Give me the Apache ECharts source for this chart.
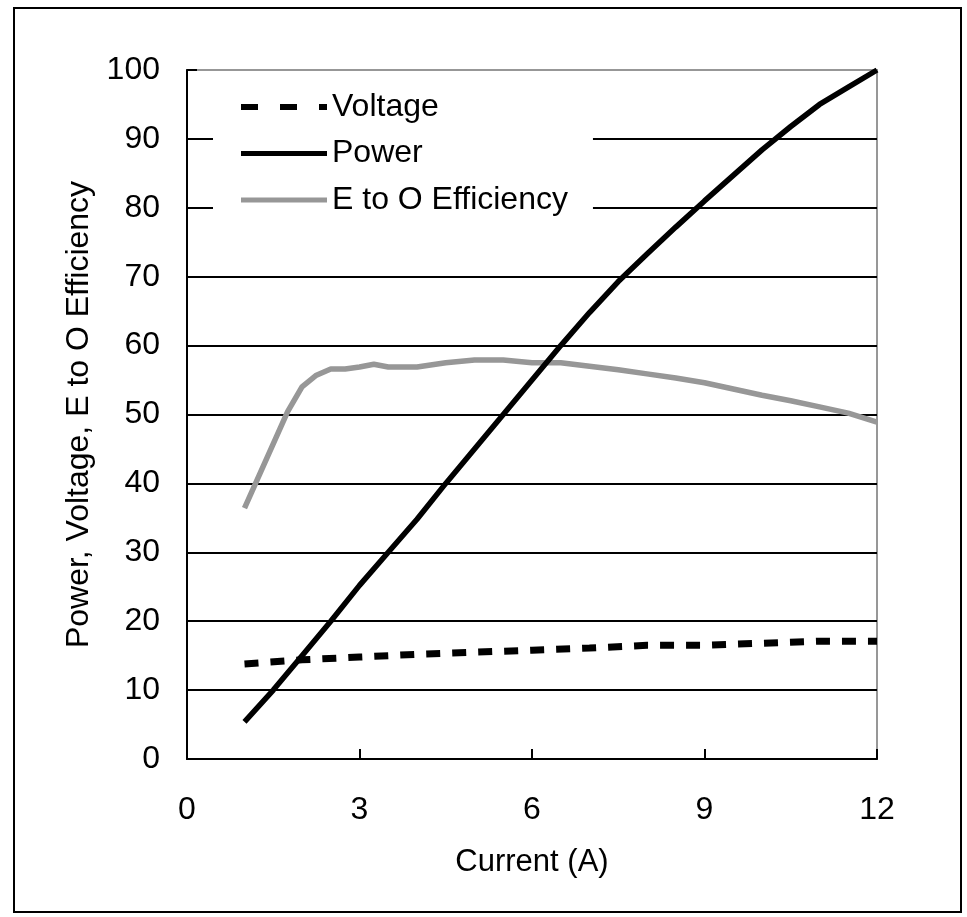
<!DOCTYPE html>
<html>
<head>
<meta charset="utf-8">
<script src="https://cdn.jsdelivr.net/npm/echarts@6/dist/echarts.min.js"></script>
<style>
  html, body { margin: 0; padding: 0; background: #fff; }
  #chart { width: 967px; height: 917px; }
</style>
</head>
<body>
<div id="chart"></div>
<script>
// Current (A) sample points for each measured curve
const voltageCurrent = [1, 2, 3, 4, 5, 6, 7, 8, 9, 10, 11, 12];
const voltageValues  = [13.8, 14.4, 14.8, 15.2, 15.5, 15.8, 16.1, 16.5, 16.5, 16.8, 17.1, 17.1];

const powerCurrent = [1, 1.5, 2, 2.5, 3, 3.5, 4, 4.5, 5, 5.5, 6, 6.5, 7, 7.5, 8, 8.5, 9, 9.5, 10, 10.5, 11, 11.5, 12];
const powerValues  = [5.4, 10, 15, 20, 25.2, 30, 34.8, 40, 45, 50, 55, 60, 64.8, 69.3, 73.3, 77.2, 81, 84.7, 88.4, 91.8, 95, 97.5, 100];

const effCurrent = [1, 1.75, 2, 2.25, 2.5, 2.75, 3, 3.25, 3.5, 4, 4.5, 5, 5.5, 6, 6.5, 7, 7.5, 8, 8.5, 9, 9.5, 10, 10.5, 11, 11.5, 12];
const effValues  = [36.4, 50.4, 54.0, 55.7, 56.6, 56.6, 56.9, 57.3, 56.9, 56.9, 57.5, 57.9, 57.9, 57.5, 57.5, 57.0, 56.5, 55.9, 55.3, 54.6, 53.7, 52.8, 52.0, 51.1, 50.2, 48.9];

const seriesNames = ['Voltage', 'Power', 'E to O Efficiency'];
const xAxisTitle = 'Current (A)';
const yAxisTitle = 'Power, Voltage, E to O Efficiency';

const pairs = (xs, ys) => xs.map((x, i) => [x, ys[i]]);

const FONT = '"Liberation Sans", Arial, sans-serif';
const GRAY = '#979797';

// Legend keys: flat bars (dashed for voltage), 86 x 6 box
const dashedKey = 'path://M0,0h17v6h-17z M39,0h17v6h-17z M78,0h8v6h-8z';
const solidKey  = 'path://M0,0M86,6M0,0.5h86v5h-86z';

const chart = echarts.init(document.getElementById('chart'), null, { renderer: 'canvas' });

chart.setOption({
  animation: false,
  backgroundColor: '#fff',
  textStyle: { fontFamily: FONT, color: '#000' },
  graphic: [{
    type: 'rect',
    shape: { x: 14, y: 8, width: 947, height: 904 },
    style: { fill: 'none', stroke: '#000', lineWidth: 2 },
    z: 0,
    silent: true
  }],
  grid: {
    left: 187, right: 90, top: 70, bottom: 158,
    show: true,
    borderColor: GRAY,
    borderWidth: 2,
    backgroundColor: 'transparent'
  },
  legend: {
    orient: 'vertical',
    left: 213,
    top: 84,
    padding: [7, 25, 10, 28],
    itemWidth: 86,
    itemHeight: 6,
    itemGap: 14.5,
    itemTextGap: 6,
    backgroundColor: '#fff',
    textStyle: { fontFamily: FONT, fontSize: 32, color: '#000' },
    data: [
      { name: seriesNames[0], icon: dashedKey, itemStyle: { color: '#000' } },
      { name: seriesNames[1], icon: solidKey, itemStyle: { color: '#000' } },
      { name: seriesNames[2], icon: solidKey, itemStyle: { color: GRAY } }
    ]
  },
  xAxis: {
    type: 'value',
    min: 0, max: 12, interval: 3,
    name: xAxisTitle,
    nameLocation: 'middle',
    nameGap: 88,
    nameTextStyle: { fontFamily: FONT, fontSize: 31, color: '#000' },
    axisLine: { show: true, onZero: false, lineStyle: { color: '#000', width: 2 } },
    axisTick: { show: true, inside: true, length: 10, lineStyle: { color: '#000', width: 2 } },
    axisLabel: { fontFamily: FONT, fontSize: 32, color: '#000', margin: 35 },
    splitLine: { show: false }
  },
  yAxis: {
    type: 'value',
    min: 0, max: 100, interval: 10,
    name: yAxisTitle,
    nameLocation: 'middle',
    nameGap: 92,
    nameTextStyle: { fontFamily: FONT, fontSize: 32, color: '#000' },
    axisLine: { show: true, onZero: false, lineStyle: { color: '#000', width: 2 } },
    axisTick: { show: true, inside: true, length: 10, lineStyle: { color: '#000', width: 2 } },
    axisLabel: { fontFamily: FONT, fontSize: 32, color: '#000', margin: 27 },
    splitLine: { show: true, showMinLine: false, showMaxLine: false, lineStyle: { color: '#000', width: 2 } }
  },
  series: [
    {
      name: seriesNames[0],
      type: 'line',
      data: pairs(voltageCurrent, voltageValues),
      symbol: 'none',
      lineStyle: { color: '#000', width: 7, type: [14, 12], cap: 'butt' },
      itemStyle: { color: '#000' },
      z: 2
    },
    {
      name: seriesNames[1],
      type: 'line',
      data: pairs(powerCurrent, powerValues),
      symbol: 'none',
      lineStyle: { color: '#000', width: 5.5 },
      itemStyle: { color: '#000' },
      z: 4
    },
    {
      name: seriesNames[2],
      type: 'line',
      data: pairs(effCurrent, effValues),
      symbol: 'none',
      lineStyle: { color: GRAY, width: 5.5 },
      itemStyle: { color: GRAY },
      z: 3
    }
  ]
});
</script>
</body>
</html>
